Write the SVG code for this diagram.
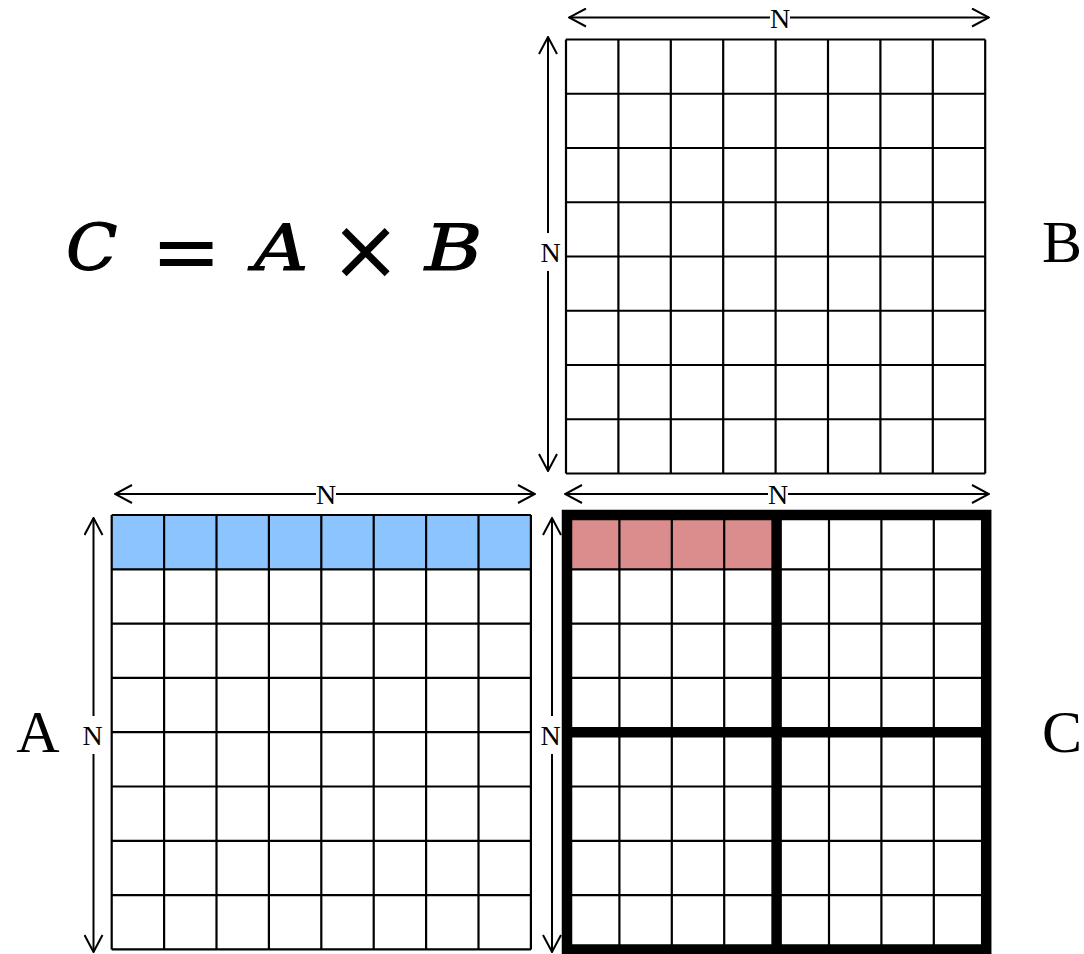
<svg xmlns="http://www.w3.org/2000/svg" width="1084" height="954" viewBox="0 0 1084 954">
<defs>
<marker id="ah" markerUnits="userSpaceOnUse" viewBox="0 0 20 20" refX="19" refY="10" markerWidth="20" markerHeight="20" orient="auto-start-reverse">
<path d="M2,1 L19,10 L2,19" fill="none" stroke="#000" stroke-width="2"/>
</marker>
</defs>
<style>
.grid{fill:none;stroke:#000;stroke-width:2.2}
.thick{fill:none;stroke:#000;stroke-width:10.5}
.arr{fill:none;stroke:#000;stroke-width:2;marker-start:url(#ah);marker-end:url(#ah)}
.n{font-family:"Liberation Serif",serif;font-size:28px;text-anchor:middle;fill:#000}
.lbl{font-family:"Liberation Serif",serif;font-size:60px;text-anchor:middle;fill:#000}
.f{font-family:"DejaVu Serif",serif;font-style:italic;font-size:64px;fill:#000;stroke:#000;stroke-width:1.2}
.fo{font-family:"DejaVu Sans",sans-serif;fill:#000}
.bg{fill:#fff}
</style>
<rect width="1084" height="954" fill="#fff"/>

<g id="formula">
<text class="f" transform="translate(66,270) scale(1.05,1)" x="0" y="0">C</text>
<text class="fo" x="151" y="280" style="font-size:84px">=</text>
<text class="f" transform="translate(253.8,270) scale(1.18,1)" x="0" y="0">A</text>
<text class="fo" x="330" y="279" style="font-size:85px">×</text>
<text class="f" transform="translate(425,270) scale(1.22,1)" x="0" y="0">B</text>
</g>

<g id="matrixB">
<path class="grid" d="M566,39.5V473.5M618.4,39.5V473.5M670.8,39.5V473.5M723.2,39.5V473.5M775.6,39.5V473.5M828,39.5V473.5M880.4,39.5V473.5M932.8,39.5V473.5M985.2,39.5V473.5M566,39.5H985.2M566,93.75H985.2M566,148H985.2M566,202.25H985.2M566,256.5H985.2M566,310.75H985.2M566,365H985.2M566,419.25H985.2M566,473.5H985.2"/>
<text class="lbl" x="1062" y="262">B</text>
</g>

<g id="matrixA">
<rect x="111.7" y="515" width="419.2" height="54.3" fill="#8CC4FF"/>
<path class="grid" d="M111.7,515V949.4M164.1,515V949.4M216.5,515V949.4M268.9,515V949.4M321.3,515V949.4M373.7,515V949.4M426.1,515V949.4M478.5,515V949.4M530.9,515V949.4M111.7,515H530.9M111.7,569.3H530.9M111.7,623.6H530.9M111.7,677.9H530.9M111.7,732.2H530.9M111.7,786.5H530.9M111.7,840.8H530.9M111.7,895.1H530.9M111.7,949.4H530.9"/>
<text class="lbl" x="38" y="752">A</text>
</g>

<g id="matrixC">
<rect x="567" y="515" width="209.6" height="54.3" fill="#DB8D8D"/>
<path class="grid" d="M619.4,515V949.4M671.8,515V949.4M724.2,515V949.4M829,515V949.4M881.4,515V949.4M933.8,515V949.4M567,569.3H986.2M567,623.6H986.2M567,677.9H986.2M567,786.5H986.2M567,840.8H986.2M567,895.1H986.2"/>
<path class="thick" d="M567,515H986.2V949.4H567Z M776.6,515V949.4 M567,732.2H986.2"/>
<text class="lbl" x="1062" y="752">C</text>
</g>

<g id="connectors">
<line class="arr" x1="569" y1="17.5" x2="989" y2="17.5"/>
<line class="arr" x1="548" y1="37" x2="548" y2="471"/>
<line class="arr" x1="115" y1="494" x2="535" y2="494"/>
<line class="arr" x1="93.5" y1="518" x2="93.5" y2="952"/>
<line class="arr" x1="565" y1="494" x2="989" y2="494"/>
<line class="arr" x1="552" y1="518" x2="552" y2="952"/>
</g>

<g id="dimLabels">
<rect class="bg" x="770" y="6" width="20" height="24"/>
<text class="n" x="780" y="27.5">N</text>
<rect class="bg" x="540" y="233" width="21" height="38"/>
<text class="n" x="550.5" y="262">N</text>
<rect class="bg" x="316" y="482" width="20" height="24"/>
<text class="n" x="326" y="504">N</text>
<rect class="bg" x="82" y="716" width="21" height="38"/>
<text class="n" x="92.5" y="745">N</text>
<rect class="bg" x="768" y="482" width="20" height="24"/>
<text class="n" x="778" y="504">N</text>
<rect class="bg" x="540" y="716" width="21" height="38"/>
<text class="n" x="550.5" y="745">N</text>
</g>
</svg>
